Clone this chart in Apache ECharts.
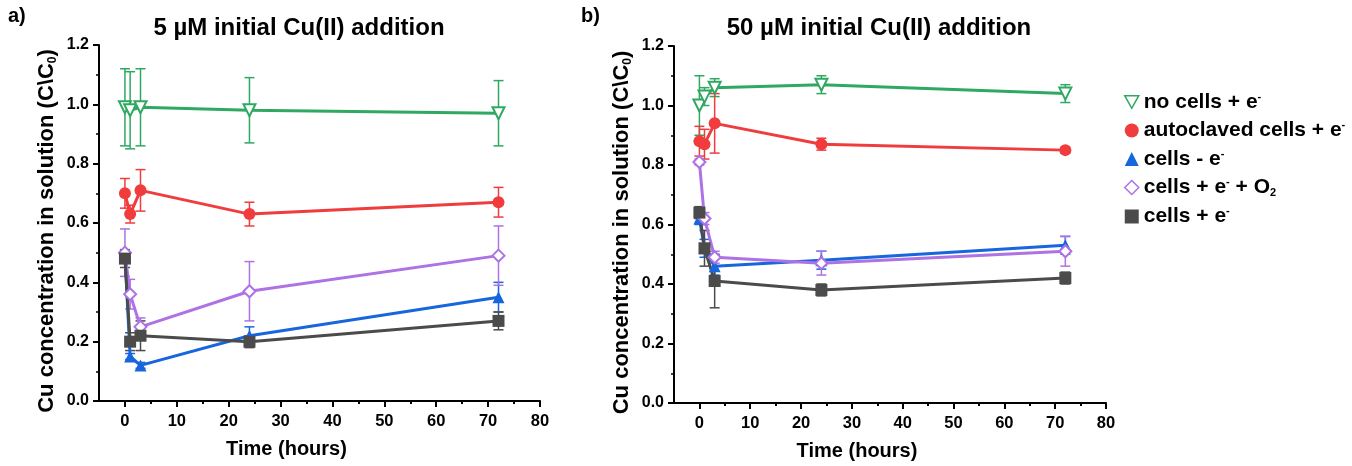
<!DOCTYPE html>
<html>
<head>
<meta charset="utf-8">
<script src="https://cdn.jsdelivr.net/npm/echarts@6/dist/echarts.min.js"></script>
<style>
  html, body { margin: 0; padding: 0; background: #fff; }
  #chart { width: 1352px; height: 466px; }
</style>
</head>
<body>
<div id="chart"></div>
<script>
// sampling times (hours)
const times = [0, 1, 3, 24, 72];

// a) 5 uM initial Cu(II)
const noCellsA = [0.99, 0.98, 0.99, 0.98, 0.97];
const noCellsAErr = [0.13, 0.13, 0.13, 0.11, 0.11];
const autoA = [0.70, 0.63, 0.71, 0.63, 0.67];
const autoAErr = [0.05, 0.03, 0.07, 0.04, 0.05];
const minusA = [0.49, 0.15, 0.12, 0.22, 0.35];
const minusAErr = [0.02, 0.01, 0.01, 0.03, 0.05];
const o2A = [0.50, 0.36, 0.25, 0.37, 0.49];
const o2AErr = [0.08, 0.05, 0.03, 0.10, 0.10];
const cellsA = [0.48, 0.20, 0.22, 0.20, 0.27];
const cellsAErr = [0.03, 0.03, 0.05, 0.02, 0.03];

// b) 50 uM initial Cu(II)
const noCellsB = [1.00, 1.03, 1.06, 1.07, 1.04];
const noCellsBErr = [0.10, 0.03, 0.03, 0.03, 0.03];
const autoB = [0.88, 0.87, 0.94, 0.87, 0.85];
const autoBErr = [0.05, 0.05, 0.10, 0.02, 0.01];
const minusB = [0.62, 0.52, 0.46, 0.48, 0.53];
const minusBErr = [0.02, 0.03, 0.03, 0.03, 0.03];
const o2B = [0.81, 0.62, 0.49, 0.47, 0.51];
const o2BErr = [0.01, 0.02, 0.02, 0.04, 0.05];
const cellsB = [0.64, 0.52, 0.41, 0.38, 0.42];
const cellsBErr = [0.02, 0.06, 0.09, 0.02, 0.02];

const yTicks = [0, 0.2, 0.4, 0.6, 0.8, 1.0, 1.2];
const xTicks = [0, 10, 20, 30, 40, 50, 60, 70, 80];
const xMinorTicks = [5, 15, 25, 35, 45, 55, 65, 75];

const names = ['no cells + e-', 'autoclaved cells + e-', 'cells - e-', 'cells + e- + O2', 'cells + e-'];
const colors = ['#2fa862', '#f03c3c', '#1766de', '#ad72e4', '#4b4b4b'];
const symbols = ['emptyTriangle', 'circle', 'triangle', 'emptyDiamond', 'rect'];
const legendText = [
  '{t|no cells + e}{s|-}',
  '{t|autoclaved cells + e}{s|-}',
  '{t|cells - e}{s|-}',
  '{t|cells + e}{s|-}{t| + O}{b|2}',
  '{t|cells + e}{s|-}'
];

const panelA = [[noCellsA, noCellsAErr], [autoA, autoAErr], [minusA, minusAErr], [o2A, o2AErr], [cellsA, cellsAErr]];
const panelB = [[noCellsB, noCellsBErr], [autoB, autoBErr], [minusB, minusBErr], [o2B, o2BErr], [cellsB, cellsBErr]];

const font = 'Liberation Sans, Arial, sans-serif';
const grids = [
  { left: 99, top: 45, width: 441, height: 356, outerBoundsMode: 'none' },
  { left: 674, top: 46, width: 432, height: 357, outerBoundsMode: 'none' }
];

function errorBars(params, api) {
  const lo = api.coord([api.value(0), api.value(1)]);
  const hi = api.coord([api.value(0), api.value(2)]);
  const w = 5;
  const style = { stroke: api.visual('color'), lineWidth: 1.5, fill: null };
  return {
    type: 'group',
    children: [
      { type: 'line', shape: { x1: lo[0], y1: lo[1], x2: hi[0], y2: hi[1] }, style: style },
      { type: 'line', shape: { x1: lo[0] - w, y1: lo[1], x2: lo[0] + w, y2: lo[1] }, style: style },
      { type: 'line', shape: { x1: hi[0] - w, y1: hi[1], x2: hi[0] + w, y2: hi[1] }, style: style }
    ]
  };
}

const series = [];
[panelA, panelB].forEach(function (panel, g) {
  panel.forEach(function (pair, i) {
    const vals = pair[0], errs = pair[1];
    series.push({
      name: names[i],
      type: 'custom',
      xAxisIndex: g,
      yAxisIndex: g,
      renderItem: errorBars,
      itemStyle: { color: colors[i] },
      encode: { x: 0, y: [1, 2] },
      data: times.map(function (t, k) { return [t, vals[k] - errs[k], vals[k] + errs[k]]; }),
      z: 3,
      silent: true
    });
    series.push({
      name: names[i],
      type: 'line',
      xAxisIndex: g,
      yAxisIndex: g,
      data: times.map(function (t, k) { return [t, vals[k]]; }),
      symbol: symbols[i],
      symbolRotate: i === 0 ? 180 : 0,
      symbolSize: 12,
      showAllSymbol: true,
      lineStyle: { color: colors[i], width: 3 },
      itemStyle: { color: colors[i], borderWidth: i === 0 || i === 3 ? 1.5 : 0 },
      z: 4
    });
  });
});

function xAxis(g) {
  return {
    type: 'value',
    gridIndex: g,
    position: 'bottom',
    min: -5,
    max: 80,
    interval: 5,
    name: 'Time (hours)',
    nameLocation: 'middle',
    nameGap: 38,
    nameTextStyle: { fontFamily: font, fontWeight: 'bold', fontSize: 20, color: '#000', padding: [0, 66, 0, 0] },
    axisLine: { onZero: false, lineStyle: { color: '#000', width: 2 } },
    axisTick: { show: true, customValues: xTicks, length: 6, lineStyle: { color: '#000', width: 2 } },
    splitLine: { show: false },
    axisLabel: {
      customValues: xTicks,
      fontFamily: font, fontWeight: 'bold', fontSize: 16.5, color: '#000', margin: 12
    }
  };
}

// short ticks between the labelled ones; a top axis moved down onto the bottom line
function xMinorAxis(g) {
  return {
    type: 'value',
    gridIndex: g,
    position: 'top',
    offset: -grids[g].height,
    min: -5,
    max: 80,
    interval: 5,
    axisLine: { show: false },
    axisLabel: { show: false },
    splitLine: { show: false },
    axisTick: { show: true, inside: true, customValues: xMinorTicks, length: 3, lineStyle: { color: '#000', width: 2 } }
  };
}

function yAxis(g) {
  return {
    type: 'value',
    gridIndex: g,
    min: yTicks[0],
    max: yTicks[yTicks.length - 1],
    interval: 0.2,
    name: '{n|Cu concentration in solution (C\\C}{sub|0}{n|)}',
    nameLocation: 'middle',
    nameGap: 40,
    nameTextStyle: {
      fontFamily: font, fontWeight: 'bold', fontSize: 22, color: '#000',
      padding: [0, 16, 0, 0],
      rich: {
        n: { fontFamily: font, fontWeight: 'bold', fontSize: 22, color: '#000', lineHeight: 24 },
        sub: { fontFamily: font, fontWeight: 'bold', fontSize: 12, color: '#000', verticalAlign: 'bottom', lineHeight: 24 }
      }
    },
    axisLine: { show: true, onZero: false, lineStyle: { color: '#000', width: 2 } },
    axisTick: { show: true, length: 6, lineStyle: { width: 2 } },
    minorTick: { show: true, splitNumber: 2, length: 3, lineStyle: { color: '#000', width: 1.5 } },
    splitLine: { show: false },
    axisLabel: {
      fontFamily: font, fontWeight: 'bold', fontSize: 16, color: '#000', margin: 10,
      formatter: function (v) { return v.toFixed(1); }
    }
  };
}

const option = {
  animation: false,
  backgroundColor: '#fff',
  title: [
    { text: '5 µM initial Cu(II) addition', left: 294, top: 11, textAlign: 'center',
      textStyle: { fontFamily: font, fontWeight: 'bold', fontSize: 24, color: '#000' } },
    { text: '50 µM initial Cu(II) addition', left: 874, top: 11, textAlign: 'center',
      textStyle: { fontFamily: font, fontWeight: 'bold', fontSize: 24, color: '#000' } }
  ],
  graphic: [
    { type: 'text', left: 8, top: 6, style: { text: 'a)', font: 'bold 20px ' + font, fill: '#000' } },
    { type: 'text', left: 581, top: 6, style: { text: 'b)', font: 'bold 20px ' + font, fill: '#000' } }
  ],
  legend: {
    orient: 'vertical',
    left: 1119,
    top: 86,
    itemGap: 7,
    itemWidth: 14,
    itemHeight: 14,
    data: names.map(function (n, i) {
      const item = { name: n, icon: ['path://M0,0L10,0L5,9Z', 'circle', 'triangle', 'diamond', 'rect'][i] };
      if (i === 0 || i === 3) {
        item.itemStyle = { color: '#fff', borderColor: colors[i], borderWidth: 1.5 };
      } else {
        item.itemStyle = { color: colors[i] };
      }
      return item;
    }),
    formatter: function (n) { return legendText[names.indexOf(n)]; },
    textStyle: {
      rich: {
        t: { fontFamily: font, fontWeight: 'bold', fontSize: 21, color: '#000', lineHeight: 22 },
        s: { fontFamily: font, fontWeight: 'bold', fontSize: 11, color: '#000', verticalAlign: 'top', lineHeight: 22 },
        b: { fontFamily: font, fontWeight: 'bold', fontSize: 11, color: '#000', verticalAlign: 'bottom', lineHeight: 22 }
      }
    }
  },
  grid: grids,
  xAxis: [xAxis(0), xAxis(1), xMinorAxis(0), xMinorAxis(1)],
  yAxis: [yAxis(0), yAxis(1)],
  series: series
};

const chart = echarts.init(document.getElementById('chart'), null, { renderer: 'canvas' });
chart.setOption(option);
</script>
</body>
</html>
